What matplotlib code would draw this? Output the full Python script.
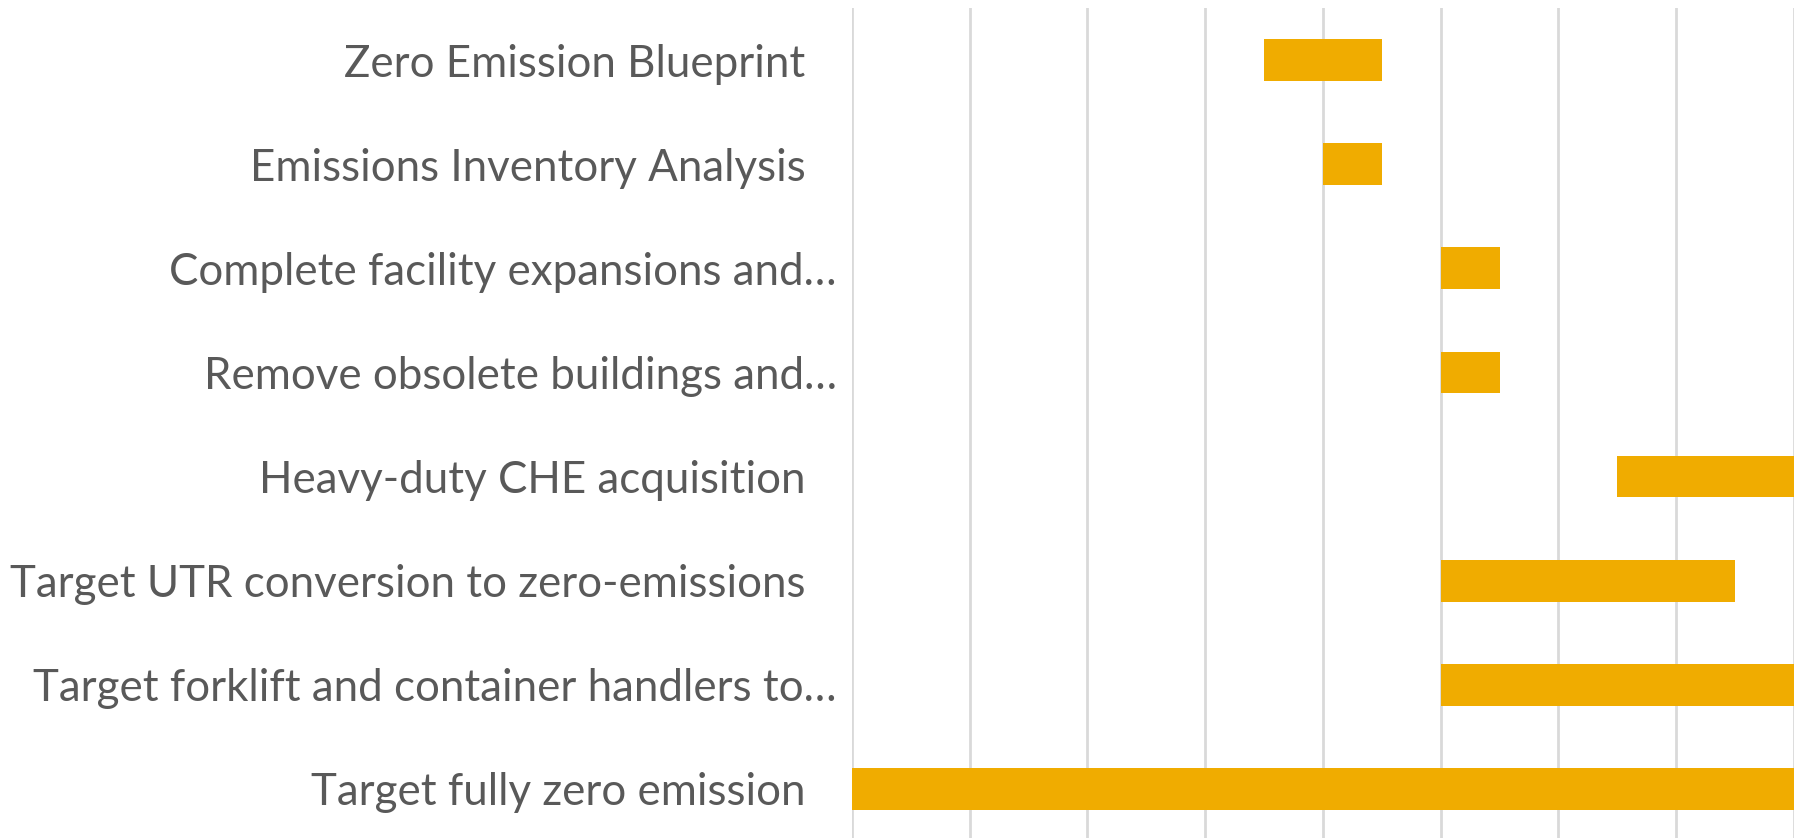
import matplotlib.pyplot as plt
import matplotlib.transforms as mtransforms
import numpy as np

# tasks listed top to bottom
tasks = ["Zero Emission Blueprint",
         "Emissions Inventory Analysis",
         "Complete facility expansions and\u2026",
         "Remove obsolete buildings and\u2026",
         "Heavy-duty CHE acquisition",
         "Target UTR conversion to zero-emissions",
         "Target forklift and container handlers to\u2026",
         "Target fully zero emission"]
start = [3.5, 4.0, 5.0, 5.0, 6.5, 5.0, 5.0, 0.0]
duration = [1.0, 0.5, 0.5, 0.5, 1.5, 2.5, 3.0, 8.0]

fig = plt.figure(figsize=(18.06, 8.38), dpi=100)
ax = fig.add_axes([852/1806, -3/838, (1794-852)/1806, 833/838])

y = np.arange(len(tasks))
ax.barh(y, duration, left=start, height=0.4, color="#F0AC00", zorder=3)

ax.set_xlim(0, 8)
ax.set_ylim(len(tasks) - 0.5, -0.5)
ax.set_xticks(np.arange(0, 9, 1))
ax.set_xticklabels([])
ax.tick_params(axis="x", length=0)
ax.grid(axis="x", color="#D9D9D9", linewidth=2, zorder=0)

ax.set_yticks(y)
ax.set_yticklabels(tasks, fontsize=31.6, color="#595959", family=["Lato", "DejaVu Sans"])
ax.tick_params(axis="y", length=0, pad=11)

# full (not truncated) labels sit a bit further left, like a trailing space
shift = mtransforms.ScaledTranslation(-31/100, 0, fig.dpi_scale_trans)
for lab in ax.get_yticklabels():
    if not lab.get_text().endswith("\u2026"):
        lab.set_transform(lab.get_transform() + shift)

for s in ax.spines.values():
    s.set_visible(False)

fig.savefig("out.png", dpi=100)
